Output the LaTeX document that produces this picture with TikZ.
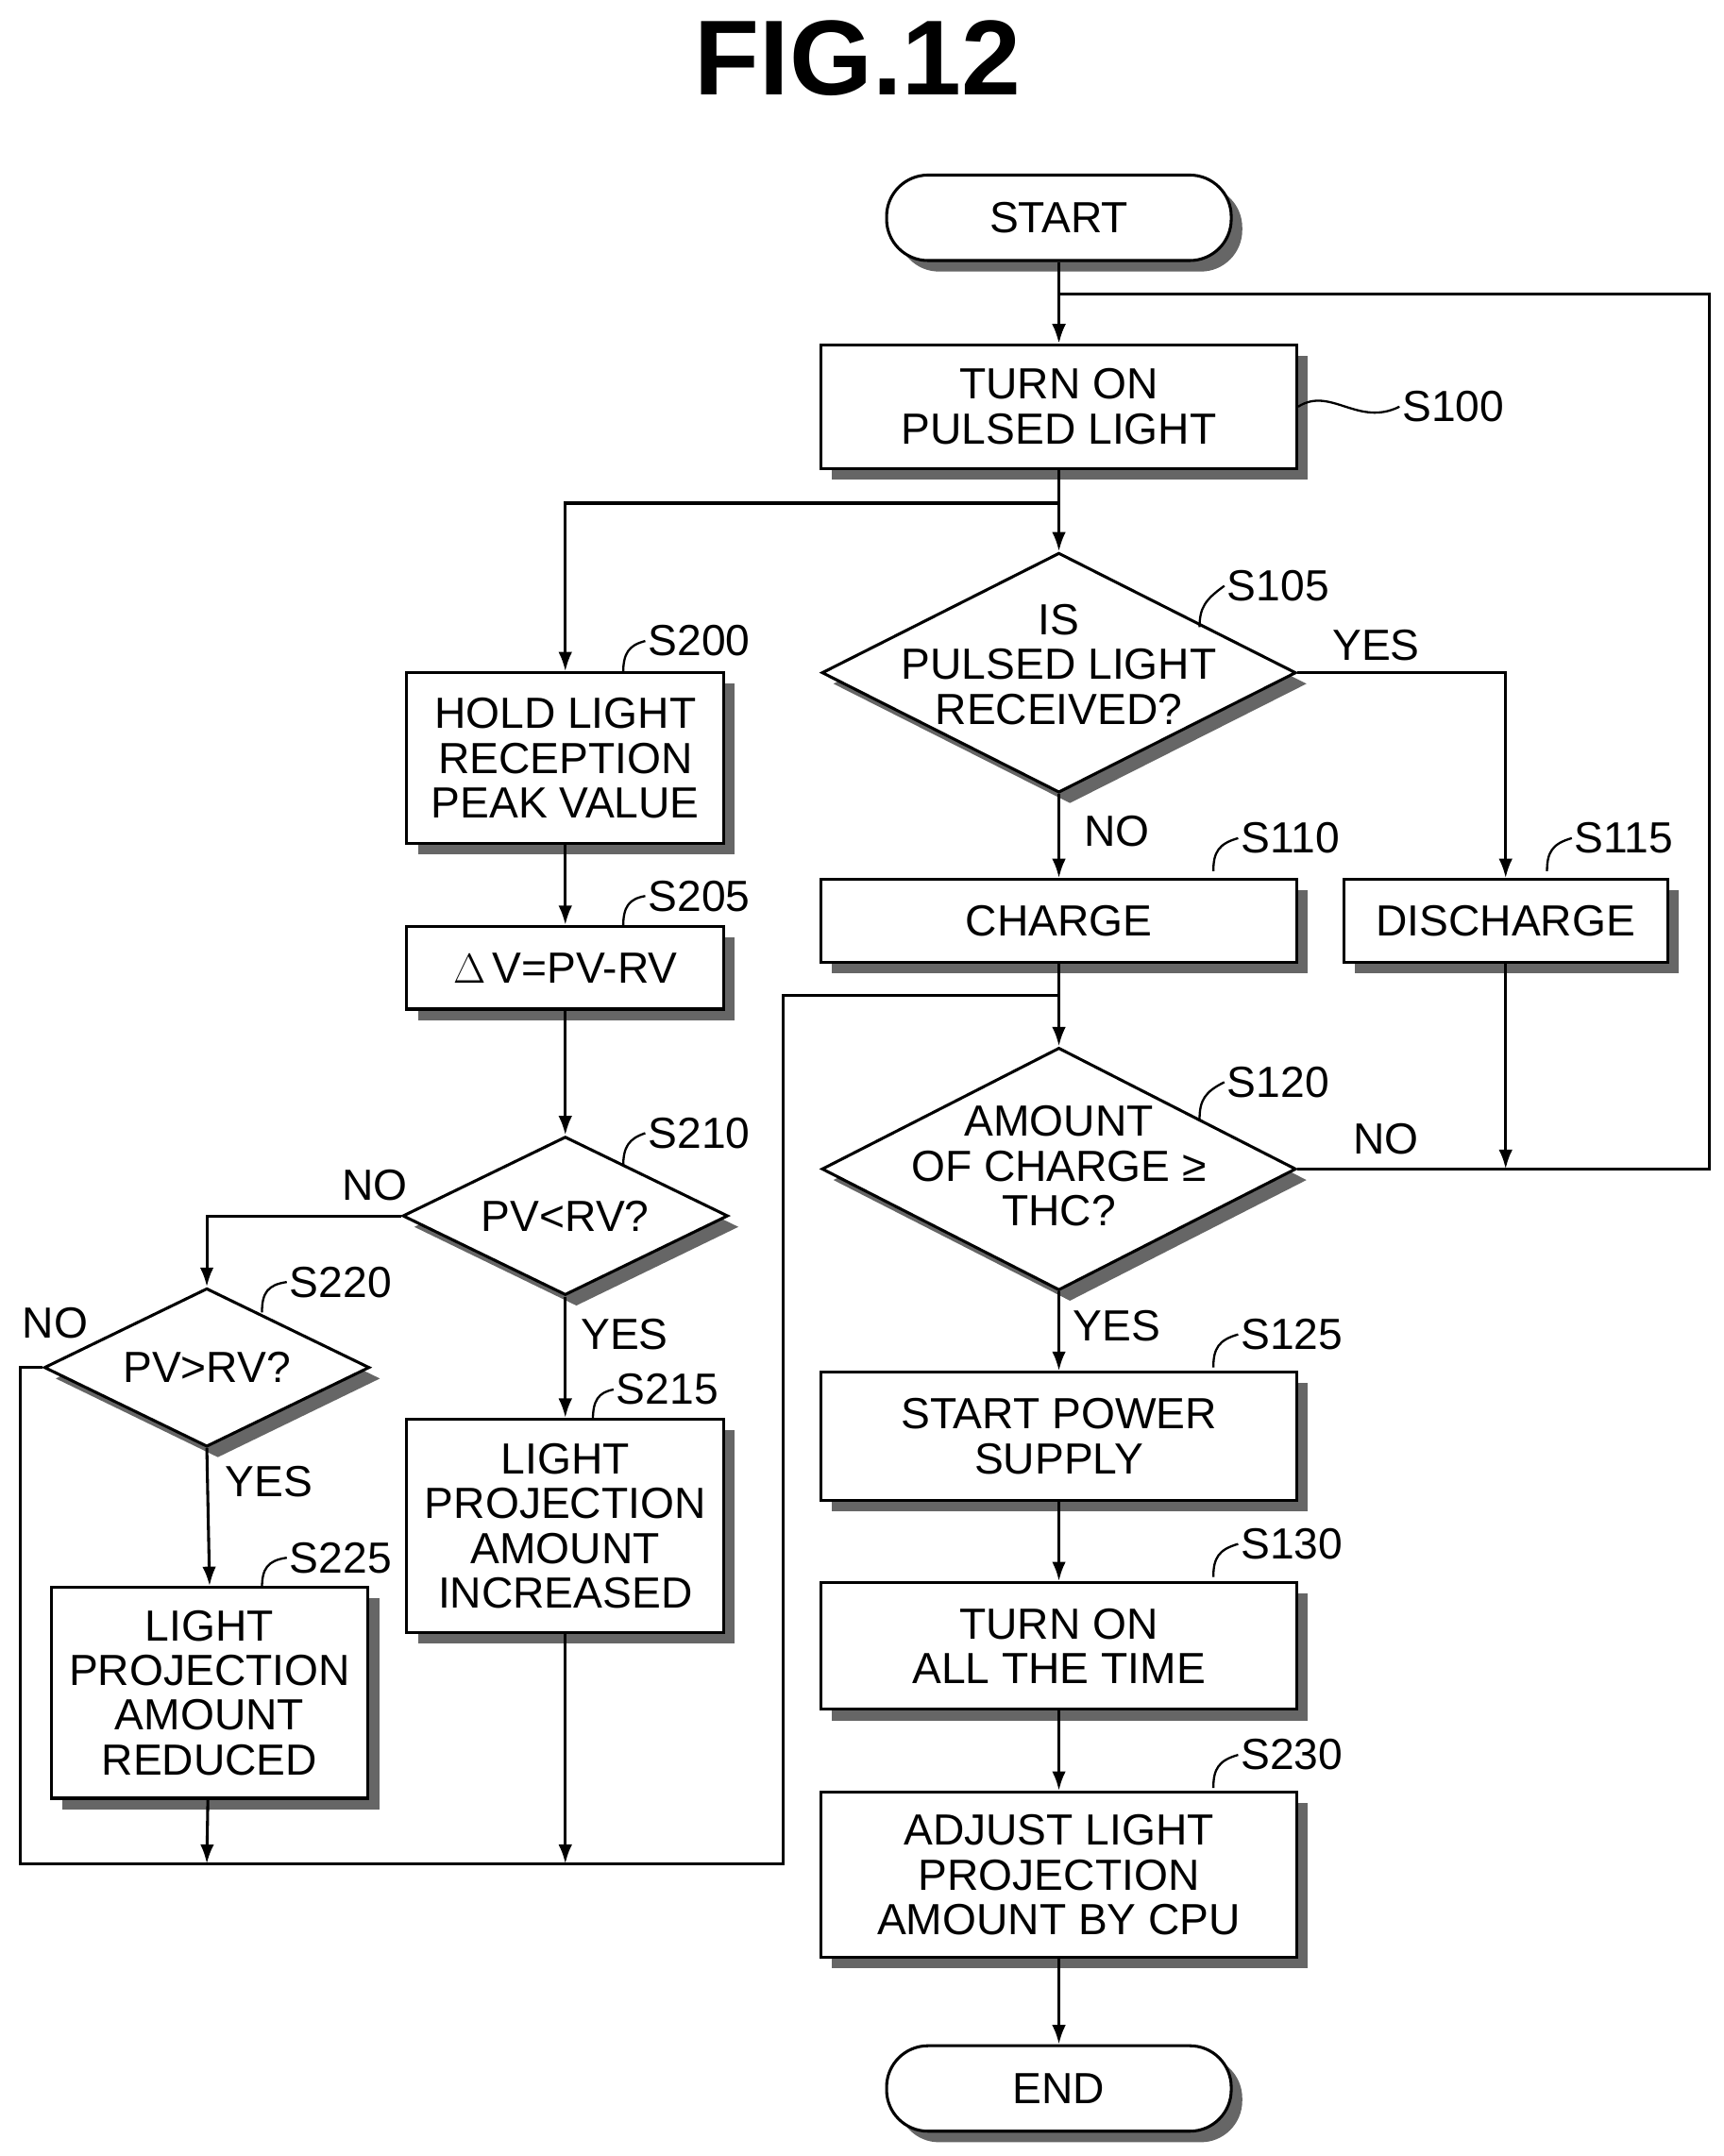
\documentclass[tikz,border=0pt]{standalone}
\usepackage{fontspec}
\setmainfont{Liberation Sans}
\usetikzlibrary{shapes.geometric,shadows,arrows.meta}
\begin{document}
\begin{tikzpicture}[x=0.02cm,y=-0.02cm,
  txt/.style={font=\fontsize{18}{18.5}\selectfont},
  shad/.style={drop shadow={shadow xshift=0.16cm,shadow yshift=-0.16cm,fill=black!60,opacity=1}},
  box/.style={draw,line width=1.2pt,fill=white,shad,align=center,txt,inner sep=0pt},
  term/.style={draw,line width=1.2pt,fill=white,shad,txt,rounded corners=0.6cm,minimum width=5cm,minimum height=1.24cm},
  dia/.style={draw,line width=1.2pt,fill=white,shad,diamond,inner sep=0pt},
  dtxt/.style={align=center,txt},
  lbl/.style={txt,anchor=west,inner sep=1pt},
  ln/.style={line width=1.2pt},
  arr/.style={line width=1.2pt,-{Latex[length=0.28cm,width=0.2cm]}},
  sq/.style={line width=0.9pt}]
\useasboundingbox (0,0) rectangle (1250,1564);
\node[font=\bfseries\fontsize{44}{44}\selectfont] (title) at (622,42) {FIG.12};
% right column
\node[term] (start) at (768,158) {START};
\node[box,minimum width=6.9cm,minimum height=1.8cm] (s100) at (768,295) {TURN ON\\PULSED LIGHT};
\node[dia,minimum width=6.88cm,minimum height=3.48cm] (s105) at (768,488) {};
\node[dtxt] (t105) at (768,482) {IS\\PULSED LIGHT\\RECEIVED?};
\node[box,minimum width=6.9cm,minimum height=1.2cm] (s110) at (768,668) {CHARGE};
\node[box,minimum width=4.7cm,minimum height=1.2cm] (s115) at (1092,668) {DISCHARGE};
\node[dia,minimum width=6.88cm,minimum height=3.52cm] (s120) at (768,848) {};
\node[dtxt] (t120) at (768,846) {AMOUNT\\OF CHARGE ≥\\THC?};
\node[box,minimum width=6.9cm,minimum height=1.86cm] (s125) at (768,1042) {START POWER\\SUPPLY};
\node[box,minimum width=6.9cm,minimum height=1.84cm] (s130) at (768,1194) {TURN ON\\ALL THE TIME};
\node[box,minimum width=6.9cm,minimum height=2.4cm] (s230) at (768,1360) {ADJUST LIGHT\\PROJECTION\\AMOUNT BY CPU};
\node[term] (end) at (768,1515) {END};
% left columns
\node[box,minimum width=4.6cm,minimum height=2.48cm] (s200) at (410,550) {HOLD LIGHT\\RECEPTION\\PEAK VALUE};
\node[box,minimum width=4.6cm,minimum height=1.2cm] (s205) at (410,702) {$\Delta$\,V=PV-RV};
\node[dia,minimum width=4.72cm,minimum height=2.3cm] (s210) at (410,882) {};
\node[dtxt] (t210) at (410,882) {PV<RV?};
\node[box,minimum width=4.6cm,minimum height=3.1cm] (s215) at (410,1107) {LIGHT\\PROJECTION\\AMOUNT\\INCREASED};
\node[dia,minimum width=4.72cm,minimum height=2.3cm] (s220) at (150,992) {};
\node[dtxt] (t220) at (150,992) {PV>RV?};
\node[box,minimum width=4.6cm,minimum height=3.06cm] (s225) at (152,1228) {LIGHT\\PROJECTION\\AMOUNT\\REDUCED};
% step labels
\node[lbl] (l100) at (1015,295) {S100};
\node[lbl] (l105) at (888,425) {S105};
\node[lbl] (l110) at (898,608) {S110};
\node[lbl] (l115) at (1140,608) {S115};
\node[lbl] (l120) at (888,785) {S120};
\node[lbl] (l125) at (898,968) {S125};
\node[lbl] (l130) at (898,1120) {S130};
\node[lbl] (l230) at (898,1273) {S230};
\node[lbl] (l200) at (468,465) {S200};
\node[lbl] (l205) at (468,650) {S205};
\node[lbl] (l210) at (468,822) {S210};
\node[lbl] (l215) at (445,1008) {S215};
\node[lbl] (l220) at (208,930) {S220};
\node[lbl] (l225) at (208,1130) {S225};
\draw[sq] (s100.east) .. controls (965,280) and (985,310) .. (l100.west);
\foreach \n/\px/\py in {l105/870/455,l110/880/632,l115/1122/632,l120/870/812,l125/880/992,l130/880/1144,l230/880/1297,l200/452/488,l205/452/672,l210/452/846,l215/430/1030,l220/190/952,l225/190/1152}
  \draw[sq] (\px,\py) .. controls (\px,\py-14) and (\px+4,-2+\py-18) .. (\n.west);
% yes/no
\node[txt] (y105) at (998,468) {YES};
\node[txt] (n105) at (810,603) {NO};
\node[txt] (n120) at (1005,826) {NO};
\node[txt] (y120) at (810,962) {YES};
\node[txt] (n210) at (272,860) {NO};
\node[txt] (y210) at (453,968) {YES};
\node[txt] (n220) at (40,960) {NO};
\node[txt] (y220) at (195,1075) {YES};
% coordinates
\coordinate (split) at (768,365);
\coordinate (loop) at (768,213);
\coordinate (merge) at (768,722);
\coordinate (dj) at (1092,848);
\coordinate (b1) at (150,1352);
\coordinate (b2) at (410,1352);
% connectors
\draw[arr] (start) -- (s100);
\draw[ln] (s100) -- (split);
\draw[arr] (split) -- (s105.north);
\draw[arr] (split) -- (410,365) -- (s200.north);
\draw[arr] (s105.east) -- (1092,488) -- (s115.north);
\draw[arr] (s105.south) -- (s110.north);
\draw[ln] (s110.south) -- (merge);
\draw[arr] (merge) -- (s120.north);
\draw[arr] (s115.south) -- (dj);
\draw[arr] (s120.east) -- (1240,848) -- (1240,213) -- (loop) -- (s100.north);
\draw[arr] (s120.south) -- (s125.north);
\draw[arr] (s125) -- (s130);
\draw[arr] (s130) -- (s230);
\draw[arr] (s230) -- (end);
\draw[arr] (s200) -- (s205);
\draw[arr] (s205) -- (s210.north);
\draw[arr] (s210.west) -- (150,882) -- (s220.north);
\draw[arr] (s210.south) -- (s215.north);
\draw[arr] (s220.south) -- (s225.north);
\draw[arr] (s225) -- (b1);
\draw[arr] (s215) -- (b2);
\draw[ln] (s220.west) -- (15,992) -- (15,1352) -- (568,1352) -- (568,722) -- (merge);
\end{tikzpicture}
\end{document}
